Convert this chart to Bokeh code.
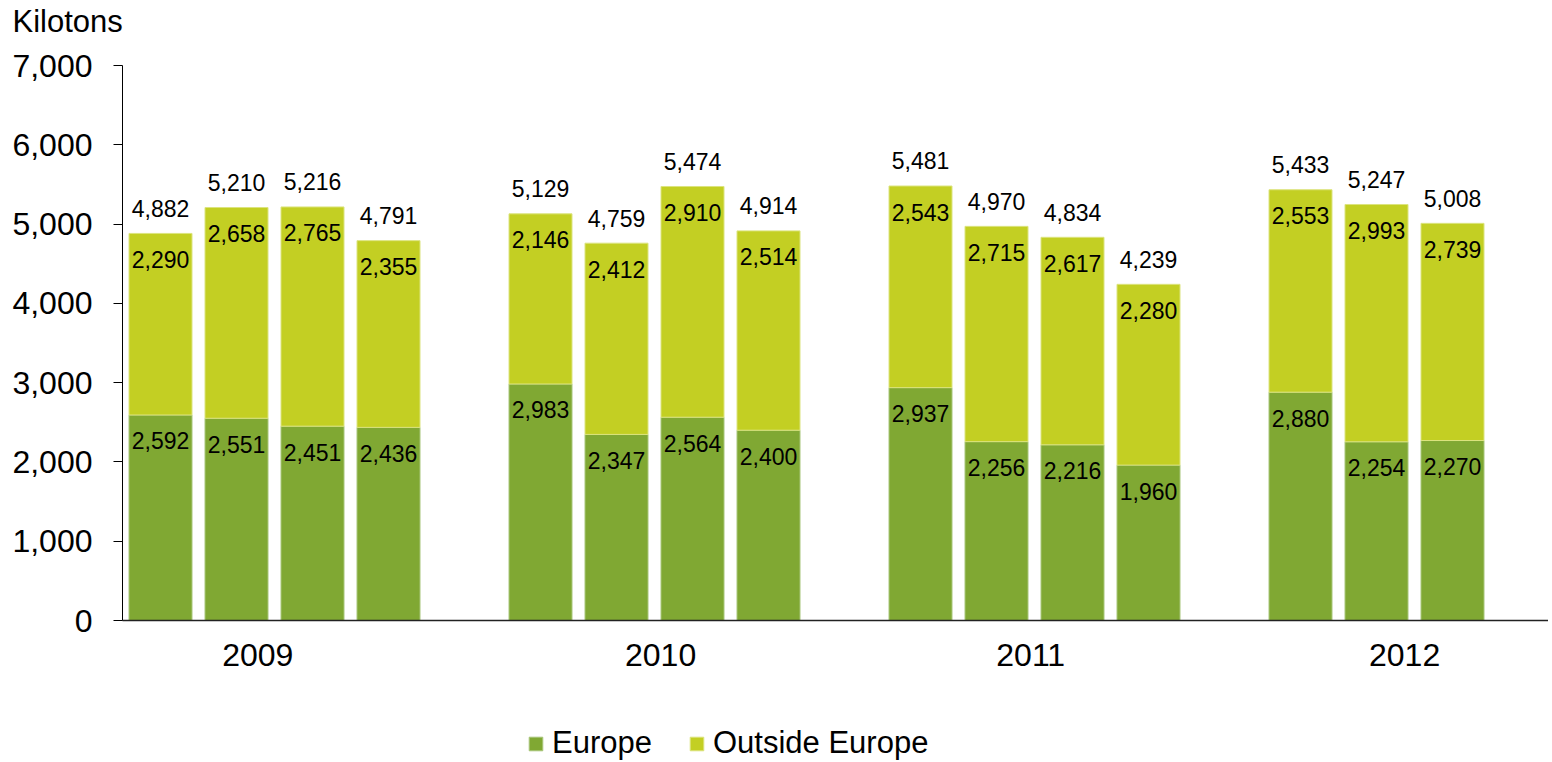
from bokeh.plotting import figure
from bokeh.models import ColumnDataSource, Range1d, Legend, LegendItem, FixedTicker, NumeralTickFormatter, Label
from bokeh.core.properties import value
from bokeh.embed import file_html
from bokeh.resources import INLINE

# ---- data ----
years = ["2009", "2010", "2011", "2012"]
quarters_per_year = [4, 4, 4, 3]
europe = [2592, 2551, 2451, 2436, 2983, 2347, 2564, 2400, 2937, 2256, 2216, 1960, 2880, 2254, 2270]
outside_europe = [2290, 2658, 2765, 2355, 2146, 2412, 2910, 2514, 2543, 2715, 2617, 2280, 2553, 2993, 2739]
total_labels = [4882, 5210, 5216, 4791, 5129, 4759, 5474, 4914, 5481, 4970, 4834, 4239, 5433, 5247, 5008]
y_ticks = [0, 1000, 2000, 3000, 4000, 5000, 6000, 7000]

# ---- layout helpers ----
# slots: quarters then one blank slot per year
xs = []
slot = 0
for n in quarters_per_year:
    xs.extend(range(slot, slot + n))
    slot += 5
year_label_pos = [1.28, 6.58, 11.45, 16.37]

C_EU = "#80A833"
C_OUT = "#C3CF23"
FONT = "Liberation Sans"

W, H = 1548, 760
AX_LEFT_PX, AX_TOP_PX, AX_ZERO_PX = 122, 65, 620     # pixel targets for the axes
slot_px = 76.0
x0 = -0.5 - AX_LEFT_PX / slot_px
x1 = x0 + W / slot_px
ppu = (AX_ZERO_PX - AX_TOP_PX) / 7000.0
y1 = 7000 + AX_TOP_PX / ppu
y0 = -(H - AX_ZERO_PX) / ppu

p = figure(width=W, height=H, output_backend="svg", toolbar_location=None,
           x_range=Range1d(x0, x1), y_range=Range1d(y0, y1), min_border=0)
p.outline_line_color = None
p.grid.visible = False
p.background_fill_color = "white"

tops = [e + o for e, o in zip(europe, outside_europe)]
src = ColumnDataSource(dict(
    x=xs, eu=europe, out=outside_europe, top=tops, tot=total_labels,
    eu_txt=[f"{v:,}" for v in europe],
    out_txt=[f"{v:,}" for v in outside_europe],
    tot_txt=[f"{v:,}" for v in total_labels],
))

bw = 63 / slot_px
r_eu = p.vbar(x="x", bottom=0, top="eu", width=bw, source=src,
              fill_color=C_EU, line_color="#A8C67A", line_width=1)
r_out = p.vbar(x="x", bottom="eu", top="top", width=bw, source=src,
               fill_color=C_OUT, line_color="#DCE47E", line_width=1)

lbl = dict(text_font=value(FONT), text_font_size="23px", text_color="black",
           text_align="center", text_baseline="middle", source=src)
p.text(x="x", y="eu", text="eu_txt", y_offset=26, **lbl)
p.text(x="x", y="top", text="out_txt", y_offset=26, **lbl)
p.text(x="x", y="tot", text="tot_txt", y_offset=-25, **lbl)

# y axis, fixed at the left edge of the first slot
ya = p.yaxis[0]
ya.fixed_location = -0.5
ya.bounds = (0, 7000)
ya.ticker = FixedTicker(ticks=y_ticks)
ya.formatter = NumeralTickFormatter(format="0,0")
ya.major_tick_in = 0
ya.major_tick_out = 9
ya.minor_tick_line_color = None
ya.axis_line_color = "black"
ya.major_tick_line_color = "black"
ya.major_label_text_font = FONT
ya.major_label_text_font_size = "32px"
ya.major_label_text_color = "black"
ya.major_label_standoff = 21

# x axis, fixed at zero
xa = p.xaxis[0]
xa.fixed_location = 0
xa.bounds = (-0.5, x1)
xa.ticker = FixedTicker(ticks=year_label_pos)
xa.major_label_overrides = {pos: y for pos, y in zip(year_label_pos, years)}
xa.major_tick_in = 0
xa.major_tick_out = 0
xa.minor_tick_line_color = None
xa.axis_line_color = "#222222"
xa.axis_line_width = 1.5
xa.major_label_text_font = FONT
xa.major_label_text_font_size = "32px"
xa.major_label_text_color = "black"
xa.major_label_standoff = 23

# unit label
p.add_layout(Label(x=x0 + 12 / slot_px, y=7000 + (AX_TOP_PX - 21) / ppu, text="Kilotons",
                   text_font=FONT, text_font_size="31px", text_color="black",
                   text_baseline="alphabetic", text_align="left"))

legend = Legend(items=[LegendItem(label="Europe", renderers=[r_eu]),
                       LegendItem(label="Outside Europe", renderers=[r_out])],
                location=(527, -1), orientation="horizontal",
                glyph_width=17, glyph_height=17, label_standoff=8, spacing=36,
                padding=0, margin=0, border_line_color=None, background_fill_alpha=0,
                label_text_font=FONT, label_text_font_size="31px", label_text_color="black",
                label_height=34)
p.add_layout(legend, "center")

open("out.html", "w").write(file_html(p, INLINE))
